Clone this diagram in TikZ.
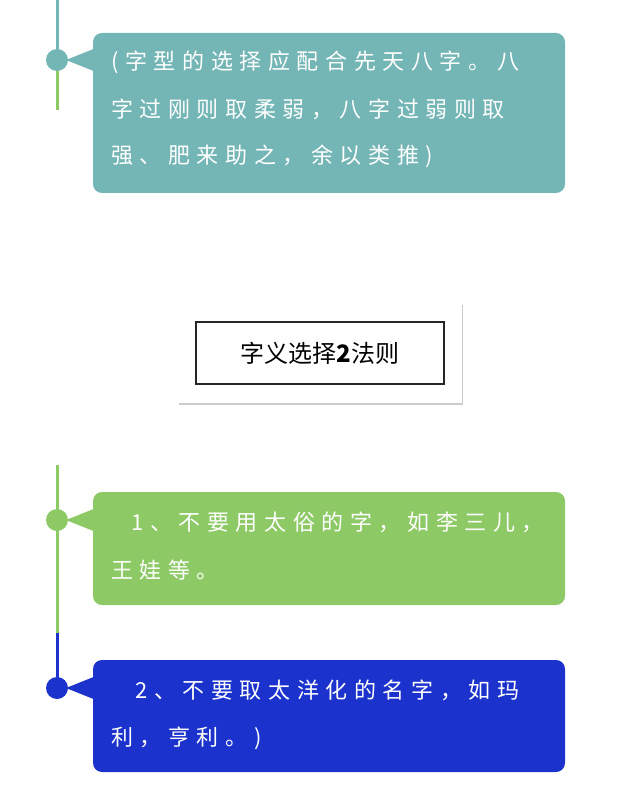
\documentclass[tikz,border=0pt]{standalone}
\usepackage{fontspec}
\newfontfamily\cjk[LetterSpace=30]{Noto Sans CJK SC}
\newfontfamily\cjktitle{Noto Sans CJK SC}
\usetikzlibrary{shadows}
\definecolor{tealbox}{HTML}{74B5B5}
\definecolor{greenbox}{HTML}{8DC965}
\definecolor{bluebox}{HTML}{1B33CC}
\tikzset{
  bubble/.style={rounded corners=9pt},
  line/.style={line width=3pt},
  txt/.style={anchor=west,inner sep=0pt,text=white,font=\cjk\fontsize{22pt}{22pt}\selectfont},
}
\begin{document}
\begin{tikzpicture}[x=1pt,y=-1pt]
\useasboundingbox (0,0) rectangle (640,802);
% top bubble
\draw[line,tealbox] (57,0) -- (57,60);
\draw[line,greenbox] (57,60) -- (57,110);
\fill[tealbox] (57,60) circle (11);
\fill[tealbox,bubble] (93,33) rectangle (565,193);
\fill[tealbox] (66,60) -- (96,48) -- (96,72) -- cycle;
\node[txt] (t1) at (111,62) {(字型的选择应配合先天八字。八};
\node[txt] (t2) at (111,109) {字过刚则取柔弱，八字过弱则取};
\node[txt] (t3) at (111,156) {强、肥来助之，余以类推)};
% title
\node[draw=none,fill=white,drop shadow={shadow xshift=1pt,shadow yshift=-2pt,opacity=0.4},minimum width=284pt,minimum height=100pt] (frame) at (320,353) {};
\node[draw=black!85,line width=1.5pt,minimum width=248pt,minimum height=62pt,font=\cjktitle\fontsize{24pt}{24pt}\selectfont] (title) at (320,353) {字义选择\textbf{2}法则};
% green bubble
\draw[line,greenbox] (57,465) -- (57,633);
\draw[line,bluebox] (57,633) -- (57,688);
\fill[greenbox] (57,520) circle (11);
\fill[greenbox,bubble] (93,492) rectangle (565,605);
\fill[greenbox] (66,520) -- (96,508) -- (96,532) -- cycle;
\node[txt] (g1) at (131,522) {1、不要用太俗的字，如李三儿，};
\node[txt] (g2) at (111,570) {王娃等。};
% blue bubble
\fill[bluebox] (57,688) circle (11);
\fill[bluebox,bubble] (93,660) rectangle (565,772);
\fill[bluebox] (66,688) -- (96,676) -- (96,700) -- cycle;
\node[txt] (b1) at (135,690) {2、不要取太洋化的名字，如玛};
\node[txt] (b2) at (111,738) {利，亨利。)};
\end{tikzpicture}
\end{document}
